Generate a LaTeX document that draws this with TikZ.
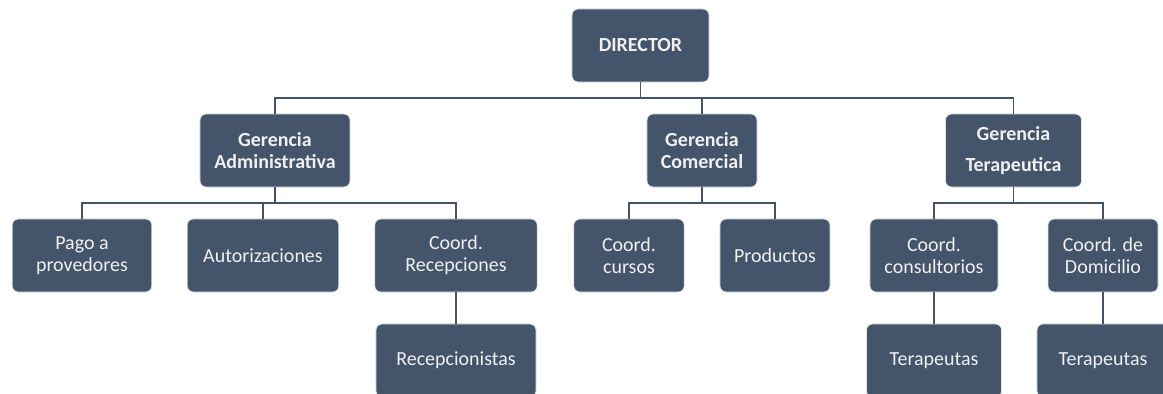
\documentclass[tikz,border=0pt]{standalone}
\usepackage{fontspec}
\setmainfont{Carlito}
\usetikzlibrary{positioning,calc}
\definecolor{pizarra}{HTML}{44546A}
\tikzset{puesto/.style={rectangle,rounded corners=0.15cm,fill=pizarra,draw=gray!20,line width=0.6pt,text=white!94!black,minimum height=1.825cm,align=center,inner sep=2pt,font=\fontsize{14.2}{15.8}\selectfont}}
\tikzset{jefe/.style={puesto,font=\fontsize{14.2}{15.8}\selectfont\bfseries}}
\tikzset{linea/.style={draw=pizarra,line width=1.4pt}}

\begin{document}
\begin{tikzpicture}[x=0.025cm,y=-0.025cm]
                        \useasboundingbox (0,0) rectangle (1163,394);
                        \clip (0,0) rectangle (1163,394);
                        % direccion y gerencias
                        \node[jefe,minimum width=3.425cm] (dir)  at (640.5,45.5)  {DIRECTOR};
                        \node[jefe,minimum width=3.75cm]  (gadm) at (275,150.5)   {Gerencia\\Administrativa};
                        \node[jefe,minimum width=2.75cm]  (gcom) at (702,150.5)   {Gerencia\\Comercial};
                        \node[jefe,minimum width=3.4cm]   (gter) at (1013.5,150.5) {Gerencia\\[0.22cm]Terapeutica};
                        % coordinaciones
                        \node[puesto,minimum width=3.49cm]  (pago)  at (82,255.5)   {Pago a\\provedores};
                        \node[puesto,minimum width=3.79cm]  (auto)  at (263,255.5)  {Autorizaciones};
                        \node[puesto,minimum width=4.06cm]  (crec)  at (456,255.5)  {Coord.\\Recepciones};
                        \node[puesto,minimum width=2.76cm]  (ccur)  at (629,255.5)  {Coord.\\cursos};
                        \node[puesto,minimum width=2.75cm]  (prod)  at (775,255.5)  {Productos};
                        \node[puesto,minimum width=3.2cm]   (ccons) at (934,255.5)  {Coord.\\consultorios};
                        \node[puesto,minimum width=2.75cm]  (cdom)  at (1103,255.5) {Coord. de\\Domicilio};
                        % personal
                        \node[puesto,minimum width=4.0cm]   (recep) at (456,360.5)  {Recepcionistas};
                        \node[puesto,minimum width=3.375cm] (ter1)  at (934,360.5)  {Terapeutas};
                        \node[puesto,minimum width=3.3cm]   (ter2)  at (1103,360.5) {Terapeutas};
                        % conectores
                        \path (dir.south)  ++(0,16) coordinate (b1);
                        \path (gadm.south) ++(0,16) coordinate (b2);
                        \path (gcom.south) ++(0,16) coordinate (b3);
                        \path (gter.south) ++(0,16) coordinate (b4);
                        \draw[linea] (dir.south) -- (b1);
                        \draw[linea] (gadm.north) |- (b1) -| (gter.north);
                        \draw[linea] (gcom.north) -- (gcom.north |- b1);
                        \draw[linea] (gadm.south) -- (b2);
                        \draw[linea] (pago.north) |- (b2) -| (crec.north);
                        \draw[linea] (auto.north) -- (auto.north |- b2);
                        \draw[linea] (gcom.south) -- (b3);
                        \draw[linea] (ccur.north) |- (b3) -| (prod.north);
                        \draw[linea] (gter.south) -- (b4);
                        \draw[linea] (ccons.north) |- (b4) -| (cdom.north);
                        \draw[linea] (crec.south) -- (recep.north);
                        \draw[linea] (ccons.south) -- (ter1.north);
                        \draw[linea] (cdom.south) -- (ter2.north);
                    \end{tikzpicture}
\end{document}
